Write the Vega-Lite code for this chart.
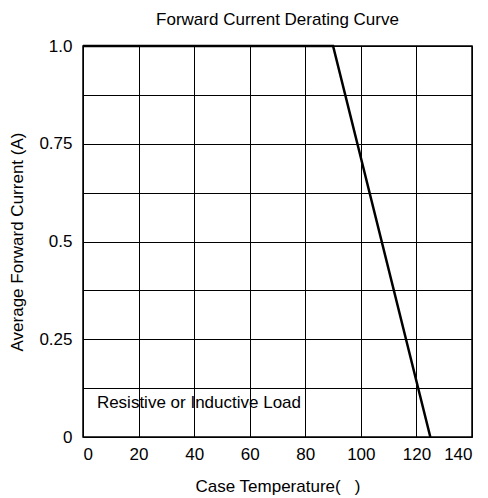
{
  "$schema": "https://vega.github.io/schema/vega-lite/v6.json",
  "autosize": "none",
  "width": 389,
  "height": 391,
  "padding": {"left": 83, "top": 46, "right": 16, "bottom": 61},
  "background": "white",
  "title": {
    "text": "Forward Current Derating Curve",
    "font": "Liberation Sans",
    "fontSize": 17,
    "fontWeight": "normal",
    "color": "#000",
    "offset": 8
  },
  "config": {
    "view": {"stroke": "#000", "strokeWidth": 1.5},
    "font": "Liberation Sans"
  },
  "datasets": {
    "curve": [
      {"temp": 0, "current": 1.0},
      {"temp": 90, "current": 1.0},
      {"temp": 125, "current": 0}
    ],
    "note": [
      {"temp": 5, "current": 0.087, "label": "Resistive or Inductive Load"}
    ]
  },
  "layer": [
    {
      "data": {"name": "curve"},
      "mark": {"type": "line", "color": "#000", "strokeWidth": 2.5, "clip": false},
      "encoding": {
        "x": {
          "field": "temp",
          "type": "quantitative",
          "scale": {"domain": [0, 140], "nice": false},
          "axis": {
            "title": "Case Temperature(\u00a0\u00a0\u00a0)",
            "values": [0, 20, 40, 60, 80, 100, 120, 140],
            "grid": true,
            "gridColor": "#000",
            "gridOpacity": 1,
            "gridWidth": 1,
            "ticks": false,
            "domain": false,
            "labelFont": "Liberation Sans",
            "labelFontSize": 17,
            "labelColor": "#000",
            "labelPadding": 9,
            "titleFont": "Liberation Sans",
            "titleFontSize": 17,
            "titleFontWeight": "normal",
            "titleColor": "#000",
            "titlePadding": 16
          }
        },
        "y": {
          "field": "current",
          "type": "quantitative",
          "scale": {"domain": [0, 1], "nice": false},
          "axis": {
            "title": "Average Forward Current (A)",
            "values": [0, 0.125, 0.25, 0.375, 0.5, 0.625, 0.75, 0.875, 1],
            "labelExpr": "datum.value == 1 ? '1.0' : datum.value == 0.75 ? '0.75' : datum.value == 0.5 ? '0.5' : datum.value == 0.25 ? '0.25' : datum.value == 0 ? '0' : ''",
            "grid": true,
            "gridColor": "#000",
            "gridOpacity": 1,
            "gridWidth": 1,
            "ticks": false,
            "domain": false,
            "labelFont": "Liberation Sans",
            "labelFontSize": 17,
            "labelColor": "#000",
            "labelPadding": 11,
            "titleFont": "Liberation Sans",
            "titleFontSize": 17,
            "titleFontWeight": "normal",
            "titleColor": "#000",
            "titlePadding": 12
          }
        }
      }
    },
    {
      "data": {"name": "note"},
      "mark": {"type": "text", "align": "left", "baseline": "middle", "font": "Liberation Sans", "fontSize": 17, "color": "#000"},
      "encoding": {
        "x": {"field": "temp", "type": "quantitative"},
        "y": {"field": "current", "type": "quantitative"},
        "text": {"field": "label"}
      }
    }
  ]
}
